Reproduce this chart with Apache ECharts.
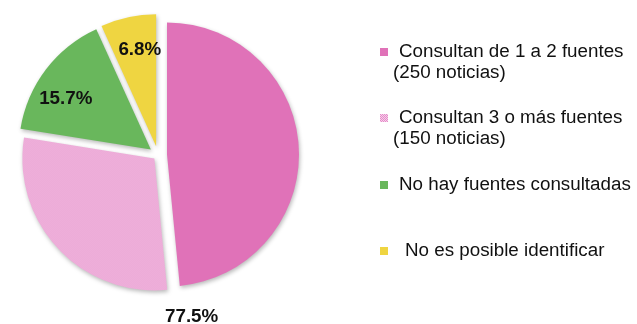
<!DOCTYPE html>
<html>
<head>
<meta charset="utf-8">
<script src="https://cdn.jsdelivr.net/npm/echarts@6/dist/echarts.min.js"></script>
<style>
  html, body { margin: 0; padding: 0; background: #ffffff; }
  #chart { width: 637px; height: 324px; }
</style>
</head>
<body>
<div id="chart"></div>
<script>
// Distribución de noticias según las fuentes consultadas
const categories = [
  'Consultan de 1 a 2 fuentes',
  'Consultan 3 o más fuentes',
  'No hay fuentes consultadas',
  'No es posible identificar'
];
const newsCounts = [250, 150, 81, 35];
// Which categories show their news count under the legend name
const showCount = [true, true, false, false];
// Categories grouped under the shared percentage at the foot of the pie
const groupedIdx = [0, 1];

const FONT = "'Liberation Sans', Arial, Helvetica, sans-serif";

// Fine dotted fill for the light pink slice
function dotPattern(dark, light) {
  const c = document.createElement('canvas');
  c.width = 2; c.height = 2;
  const g = c.getContext('2d');
  g.fillStyle = light; g.fillRect(0, 0, 2, 2);
  g.fillStyle = dark; g.fillRect(0, 0, 1, 1); g.fillRect(1, 1, 1, 1);
  return { image: c, repeat: 'repeat' };
}

const sliceColors = ['#e072b8', dotPattern('#e68bc9', '#f6d0ea'), '#69b75c', '#efd541'];
// How far each slice is pulled out of the pie
const sliceOffsets = [9, 5, 9, 9];

const total = newsCounts.reduce((a, b) => a + b, 0);
const groupedPct = (groupedIdx.reduce((s, i) => s + newsCounts[i], 0) / total * 100).toFixed(1) + '%';

const CENTER = [158, 155];
const RADIUS = 132;
const CLEAR = 'rgba(0,0,0,0)';

const legendTops = [20.5, 86.5, 174.5, 240.5];
const textBase = { fontFamily: FONT, fontSize: 18.8, color: '#111', lineHeight: 21 };

const legends = categories.map((name, i) => ({
  data: [{ name, itemStyle: { color: sliceColors[i] },
           textStyle: { padding: showCount[i] ? [21, 0, 0, 0] : 0 } }],
  left: 380, top: legendTops[i], padding: 0,
  itemWidth: 8, itemHeight: 8, icon: 'rect',
  itemStyle: { shadowBlur: 0, shadowOffsetX: 0, shadowOffsetY: 0, borderWidth: 0 },
  selectedMode: false,
  formatter: n => {
    if (showCount[i]) return '{a|' + n + '}\n{b|(' + newsCounts[i] + ' noticias)}';
    return (i === 3 ? '{c|' : '{a|') + n + '}';
  },
  textStyle: Object.assign({}, textBase, {
    rich: {
      a: Object.assign({}, textBase, { padding: [0, 0, 0, 6] }),
      b: Object.assign({}, textBase),
      c: Object.assign({}, textBase, { padding: [0, 0, 0, 12] })
    }
  })
}));

// One pie layer per distinct pull-out distance; slices of other layers stay invisible
function sliceLayer(offset) {
  return {
    type: 'pie',
    center: CENTER, radius: RADIUS,
    startAngle: 90, clockwise: true,
    selectedMode: 'multiple', selectedOffset: offset,
    data: categories.map((name, i) => {
      const mine = sliceOffsets[i] === offset;
      return {
        name, value: newsCounts[i], selected: mine,
        itemStyle: mine ? { color: sliceColors[i] }
                        : { color: CLEAR, shadowBlur: 0, shadowColor: CLEAR }
      };
    }),
    label: { show: false }, labelLine: { show: false },
    itemStyle: {
      borderWidth: 0,
      shadowBlur: 4, shadowColor: 'rgba(0,0,0,0.28)',
      shadowOffsetX: 1, shadowOffsetY: 2
    },
    select: { itemStyle: { borderWidth: 0 } },
    emphasis: { disabled: true },
    silent: true
  };
}

// label nudges (px) for the slice percentages
const labelShift = { 2: [-5, 10], 3: [5, 2] };

const layers = [...new Set(sliceOffsets)].map(sliceLayer);

const chart = echarts.init(document.getElementById('chart'), null, { renderer: 'canvas' });
chart.setOption({
  animation: false,
  backgroundColor: '#ffffff',
  title: {
    text: groupedPct,
    left: 165, top: 307, padding: 0,
    textStyle: { fontFamily: FONT, fontSize: 18.8, fontWeight: 'bold', color: '#111' }
  },
  legend: legends,
  series: layers.concat([
    {
      // label ring: places the percentages towards the outer edge of each slice
      type: 'pie',
      center: CENTER, radius: [RADIUS * 0.48, RADIUS],
      startAngle: 90, clockwise: true,
      selectedMode: 'multiple', selectedOffset: 9,
      avoidLabelOverlap: false,
      data: categories.map((name, i) => ({ name, value: newsCounts[i], selected: true })),
      itemStyle: { color: CLEAR, borderWidth: 0 },
      select: { itemStyle: { color: CLEAR, borderWidth: 0 } },
      label: {
        show: true, position: 'inside',
        formatter: p => groupedIdx.includes(p.dataIndex) ? '' : p.percent.toFixed(1) + '%',
        fontFamily: FONT, fontSize: 18.8, fontWeight: 'bold', color: '#111'
      },
      labelLayout: p => {
        const s = labelShift[p.dataIndex];
        return s ? { dx: s[0], dy: s[1] } : {};
      },
      labelLine: { show: false },
      emphasis: { disabled: true },
      silent: true
    }
  ])
});
</script>
</body>
</html>
